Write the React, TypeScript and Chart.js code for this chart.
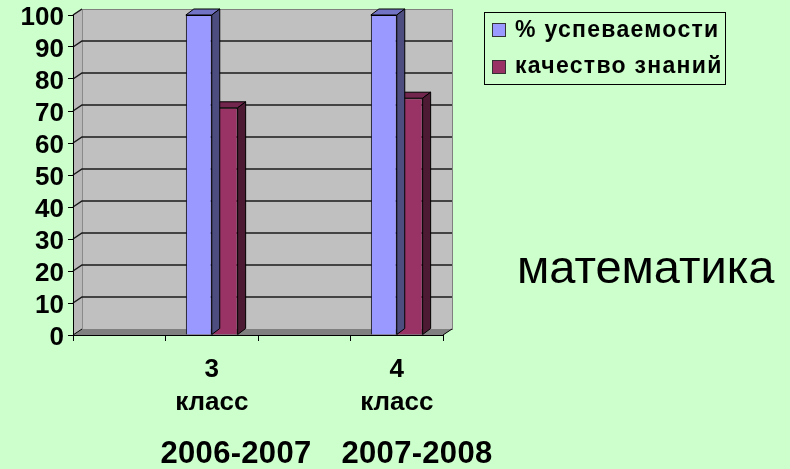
import React, { useEffect, useRef } from "react";
import { Chart, registerables } from "chart.js";

Chart.register(...registerables);

// ---- data ----
const categories: (string | string[])[] = ["", ["3", "класс"], "", ["4", "класс"]];
const seriesNames = ["% успеваемости", "качество знаний"];
const successRate: (number | null)[] = [null, 100, null, 100];
const qualityRate: (number | null)[] = [null, 71, null, 74];
const yMin = 0;
const yMax = 100;
const yStep = 10;
const yearLabels = ["2006-2007", "2007-2008"];
const subjectLabel = "математика";

// ---- styles ----
const BG = "#CCFFCC";
const WALL = "#C0C0C0";
const FLOOR = "#808080";
const seriesColors = ["#9999FF", "#993366"];
const topColors = ["#7373C6", "#73264D"];
const sideColors = ["#4D4D80", "#4D1A33"];
const FONT = "'Liberation Sans', Arial, sans-serif";
const DX = 9;
const DY = -6;
const BDX = 8;
const BDY = -6;

const wallsPlugin = {
  id: "walls3d",
  beforeDraw(chart: any) {
    const { ctx, chartArea } = chart;
    const { left, right, top, bottom } = chartArea;
    const y = chart.scales.y;
    ctx.save();
    ctx.fillStyle = WALL;
    ctx.fillRect(left + DX, top + DY, right - left, bottom - top);
    ctx.strokeStyle = "#808080";
    ctx.lineWidth = 1;
    ctx.strokeRect(left + DX + 0.5, top + DY + 0.5, right - left, bottom - top);
    ctx.fillStyle = "#B8B8B8";
    ctx.beginPath();
    ctx.moveTo(left, bottom);
    ctx.lineTo(left, top);
    ctx.lineTo(left + DX, top + DY);
    ctx.lineTo(left + DX, bottom + DY);
    ctx.closePath();
    ctx.fill();
    ctx.strokeStyle = "#8A8A8A";
    ctx.beginPath();
    ctx.moveTo(left + DX + 0.5, top + DY);
    ctx.lineTo(left + DX + 0.5, bottom + DY);
    ctx.stroke();
    ctx.beginPath();
    ctx.moveTo(left, top);
    ctx.lineTo(left + DX, top + DY);
    ctx.stroke();
    ctx.strokeStyle = "#1A1A1A";
    ctx.lineWidth = 1.5;
    for (let v = yMin + yStep; v <= yMax; v += yStep) {
      const py = y.getPixelForValue(v);
      ctx.beginPath();
      ctx.moveTo(left, py);
      ctx.lineTo(left + DX, py + DY);
      if (v < yMax) ctx.lineTo(right + DX, py + DY);
      ctx.stroke();
    }
    ctx.fillStyle = FLOOR;
    ctx.beginPath();
    ctx.moveTo(left, bottom);
    ctx.lineTo(right, bottom);
    ctx.lineTo(right + DX, bottom + DY);
    ctx.lineTo(left + DX, bottom + DY);
    ctx.closePath();
    ctx.fill();
    ctx.strokeStyle = "#000";
    ctx.lineWidth = 1;
    ctx.beginPath();
    ctx.moveTo(left, bottom);
    ctx.lineTo(left + DX, bottom + DY);
    ctx.moveTo(right, bottom);
    ctx.lineTo(right + DX, bottom + DY);
    ctx.stroke();
    ctx.restore();
  },
};

const bars3dPlugin = {
  id: "bars3d",
  afterDatasetDraw(chart: any, args: any) {
    const { ctx } = chart;
    const idx = args.index;
    const meta = args.meta;
    const data = chart.data.datasets[idx].data;
    ctx.save();
    ctx.strokeStyle = "#000";
    ctx.lineWidth = 1;
    meta.data.forEach((el: any, i: number) => {
      if (data[i] === null || data[i] === undefined) return;
      const { x, y, base, width } = el.getProps(["x", "y", "base", "width"], true);
      if (!isFinite(y)) return;
      const l = x - width / 2;
      const r = x + width / 2;
      ctx.fillStyle = topColors[idx];
      ctx.beginPath();
      ctx.moveTo(l, y);
      ctx.lineTo(r, y);
      ctx.lineTo(r + BDX, y + BDY);
      ctx.lineTo(l + BDX, y + BDY);
      ctx.closePath();
      ctx.fill();
      ctx.stroke();
      ctx.fillStyle = sideColors[idx];
      ctx.beginPath();
      ctx.moveTo(r, y);
      ctx.lineTo(r + BDX, y + BDY);
      ctx.lineTo(r + BDX, base + BDY);
      ctx.lineTo(r, base);
      ctx.closePath();
      ctx.fill();
      ctx.stroke();
    });
    ctx.restore();
  },
};

export default function App() {
  const canvasRef = useRef<HTMLCanvasElement | null>(null);

  useEffect(() => {
    const canvas = canvasRef.current;
    if (!canvas) return;
    const chart = new Chart(canvas, {
      type: "bar",
      data: {
        labels: categories,
        datasets: [
          {
            label: seriesNames[0],
            data: successRate,
            backgroundColor: seriesColors[0],
            borderColor: "#000",
            borderWidth: 1,
            categoryPercentage: 0.56,
            barPercentage: 1,
          },
          {
            label: seriesNames[1],
            data: qualityRate,
            backgroundColor: seriesColors[1],
            borderColor: "#000",
            borderWidth: 1,
            categoryPercentage: 0.56,
            barPercentage: 1,
          },
        ] as any,
      },
      options: {
        animation: false,
        responsive: false,
        maintainAspectRatio: false,
        events: [],
        layout: { padding: { top: 15, right: 347, bottom: 0, left: 0 } },
        plugins: {
          legend: { display: false },
          tooltip: { enabled: false },
          title: { display: false },
        },
        scales: {
          x: {
            offset: true,
            grid: {
              display: true,
              offset: true,
              drawOnChartArea: false,
              drawTicks: true,
              tickLength: 6,
              color: "#000",
            },
            border: { display: true, color: "#000", width: 1 },
            ticks: {
              color: "#000",
              padding: 12,
              maxRotation: 0,
              autoSkip: false,
              font: { family: FONT, size: 26, weight: "bold", lineHeight: 1.28 },
            },
            afterFit(scale: any) {
              scale.height = 134;
              scale.paddingLeft = 0;
              scale.paddingRight = 0;
            },
          },
          y: {
            min: yMin,
            max: yMax,
            grid: {
              display: true,
              drawOnChartArea: false,
              drawTicks: true,
              tickLength: 5,
              color: "#000",
            },
            border: { display: true, color: "#000", width: 1 },
            ticks: {
              stepSize: yStep,
              autoSkip: false,
              color: "#000",
              padding: 4,
              labelOffset: 3,
              font: { family: FONT, size: 26, weight: "bold" },
            },
            afterFit(scale: any) {
              scale.width = 73;
              scale.paddingTop = 0;
              scale.paddingBottom = 0;
            },
          },
        },
      } as any,
      plugins: [wallsPlugin, bars3dPlugin],
    });
    return () => chart.destroy();
  }, []);

  const textBase: React.CSSProperties = {
    position: "absolute",
    fontFamily: FONT,
    color: "#000",
    lineHeight: 1,
    whiteSpace: "nowrap",
  };

  return (
    <div style={{ position: "relative", width: 790, height: 469, background: BG, overflow: "hidden" }}>
      <style>{`body{margin:0}`}</style>
      <canvas ref={canvasRef} width={790} height={469} style={{ position: "absolute", left: 0, top: 0, width: 790, height: 469 }} />
      <div
        style={{
          position: "absolute",
          left: 484,
          top: 12,
          width: 242,
          height: 73,
          border: "1px solid #000",
          boxSizing: "border-box",
        }}
      />
      {seriesNames.map((name, i) => (
        <React.Fragment key={name}>
          <div
            style={{
              position: "absolute",
              left: 492,
              top: 23 + i * 37,
              width: 14,
              height: 14,
              background: seriesColors[i],
              border: "1px solid #333",
              boxSizing: "border-box",
            }}
          />
          <div
            style={{
              ...textBase,
              left: 515,
              top: 18 + i * 36,
              fontSize: 23,
              fontWeight: "bold",
              letterSpacing: 1.3,
            }}
          >
            {name}
          </div>
        </React.Fragment>
      ))}
      <div style={{ ...textBase, left: 517, top: 243, fontSize: 47 }}>{subjectLabel}</div>
      {yearLabels.map((yl, i) => (
        <div
          key={yl}
          style={{
            ...textBase,
            left: i === 0 ? 236 : 417,
            top: 437,
            fontSize: 31,
            fontWeight: "bold",
            letterSpacing: 0.3,
            transform: "translateX(-50%)",
          }}
        >
          {yl}
        </div>
      ))}
    </div>
  );
}
